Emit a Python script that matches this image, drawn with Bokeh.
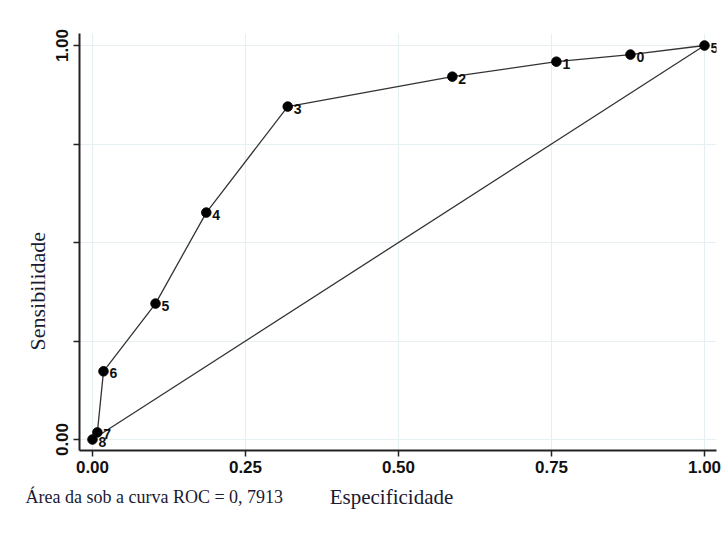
from bokeh.plotting import figure
from bokeh.layouts import column, row
from bokeh.models import Range1d, FixedTicker, Title, ColumnDataSource
from bokeh.core.properties import value
from bokeh.embed import file_html
from bokeh.resources import INLINE

# ROC points: 1 - specificity (x) vs sensitivity (y), with cut-point labels
roc_x = [0.0, 0.008, 0.018, 0.103, 0.186, 0.319, 0.588, 0.758, 0.879, 1.0]
roc_y = [0.0, 0.018, 0.173, 0.345, 0.576, 0.845, 0.921, 0.959, 0.977, 1.0]
roc_labels = ["8", "7", "6", "5", "4", "3", "2", "1", "0", "5"]
diag_x = [0.0, 1.0]
diag_y = [0.0, 1.0]
x_ticks = [0.0, 0.25, 0.5, 0.75, 1.0]
x_tick_labels = ["0.00", "0.25", "0.50", "0.75", "1.00"]
y_ticks = [0.0, 0.25, 0.5, 0.75, 1.0]
y_tick_labels = ["0.00", "", "", "", "1.00"]
x_title = "Especificidade"
y_title = "Sensibilidade"
note = "Área da sob a curva ROC = 0, 7913"

text_color = "#1a1a30"

p = figure(width=723, height=480, output_backend="svg", toolbar_location=None,
           x_range=Range1d(-0.0212, 1.0196), y_range=Range1d(-0.0279, 1.0305),
           min_border_left=79, min_border_right=7, min_border_top=33, min_border_bottom=30)
p.outline_line_color = None
p.background_fill_color = "white"
p.border_fill_color = "white"

grid_color = "#e6eff1"
p.xgrid.ticker = FixedTicker(ticks=x_ticks)
p.ygrid.ticker = FixedTicker(ticks=y_ticks)
p.xgrid.grid_line_color = grid_color
p.ygrid.grid_line_color = grid_color
p.xgrid.grid_line_width = 1.2
p.ygrid.grid_line_width = 1.2

for ax, ticks, labels in ((p.xaxis[0], x_ticks, x_tick_labels), (p.yaxis[0], y_ticks, y_tick_labels)):
    ax.ticker = FixedTicker(ticks=ticks)
    ax.major_label_overrides = {t: l for t, l in zip(ticks, labels)}
    ax.minor_tick_line_color = None
    ax.axis_line_color = "#222222"
    ax.axis_line_width = 2
    ax.major_tick_line_color = "#222222"
    ax.major_tick_line_width = 1.5
    ax.major_tick_in = 0
    ax.major_tick_out = 6
    ax.major_label_text_font = "Liberation Sans"
    ax.major_label_text_font_style = "bold"
    ax.major_label_text_font_size = "17px"
    ax.major_label_text_color = "#111111"
    ax.major_label_standoff = 4

p.yaxis[0].major_label_orientation = "vertical"
p.yaxis[0].major_label_standoff = 5

# y-axis title as a side title (shifted down like the reference)
p.add_layout(Title(text=y_title, align="left", offset=100, standoff=8,
                   text_font="Liberation Serif", text_font_size="22px",
                   text_font_style="normal", text_color=text_color), "left")

# diagonal reference line
p.line(diag_x, diag_y, line_color="#333333", line_width=1.3)

src = ColumnDataSource(dict(x=roc_x, y=roc_y, lab=roc_labels))
p.line("x", "y", source=src, line_color="#333333", line_width=1.3)
p.scatter("x", "y", source=src, size=9.5, fill_color="black", line_color="black")
p.text("x", "y", text="lab", source=src, x_offset=6, y_offset=2,
       text_font=value("Liberation Sans"), text_font_style="bold",
       text_font_size="14px", text_baseline="middle", text_align="left",
       text_color="#111111")

# bottom strip holding the AUC note and the x-axis title (pixel-like ranges)
p2 = figure(width=723, height=53, output_backend="svg", toolbar_location=None,
            x_range=Range1d(0, 723), y_range=Range1d(53, 0),
            x_axis_type=None, y_axis_type=None,
            min_border_left=0, min_border_right=0, min_border_top=0, min_border_bottom=0)
p2.outline_line_color = None
p2.grid.visible = False
p2.background_fill_color = "white"
p2.border_fill_color = "white"
p2.text(x=[25], y=[16], text=[note], text_align="left", text_baseline="middle",
        text_font=value("Liberation Serif"), text_font_size="18px", text_color=text_color)
p2.text(x=[391], y=[16], text=[x_title], text_align="center", text_baseline="middle",
        text_font=value("Liberation Serif"), text_font_size="21px", text_color=text_color)

layout = column(p, row(p2, spacing=0), spacing=0)
open("out.html", "w").write(file_html(layout, INLINE))
